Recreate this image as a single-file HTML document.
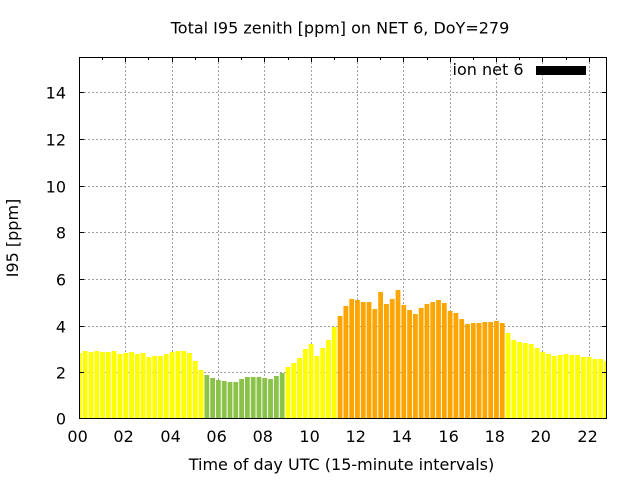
<!DOCTYPE html>
<html>
<head>
<meta charset="utf-8">
<style>
html,body{margin:0;padding:0;background:#fff;}
svg{display:block;}
text{font-family:"DejaVu Sans","Liberation Sans",sans-serif;font-size:16px;fill:#000;}
</style>
</head>
<body>
<svg width="640" height="480" viewBox="0 0 640 480" xmlns="http://www.w3.org/2000/svg">
<rect x="0" y="0" width="640" height="480" fill="#fff"/>
<!-- grid -->
<g stroke="#a0a0a0" stroke-width="1" stroke-dasharray="2,2" fill="none">
<line x1="80" y1="372.5" x2="606" y2="372.5"/>
<line x1="80" y1="326.5" x2="606" y2="326.5"/>
<line x1="80" y1="279.5" x2="606" y2="279.5"/>
<line x1="80" y1="232.5" x2="606" y2="232.5"/>
<line x1="80" y1="186.5" x2="606" y2="186.5"/>
<line x1="80" y1="139.5" x2="606" y2="139.5"/>
<line x1="80" y1="92.5" x2="606" y2="92.5"/>
<line x1="125.5" y1="58" x2="125.5" y2="418"/>
<line x1="172.5" y1="58" x2="172.5" y2="418"/>
<line x1="218.5" y1="58" x2="218.5" y2="418"/>
<line x1="264.5" y1="58" x2="264.5" y2="418"/>
<line x1="311.5" y1="58" x2="311.5" y2="418"/>
<line x1="357.5" y1="58" x2="357.5" y2="418"/>
<line x1="403.5" y1="58" x2="403.5" y2="418"/>
<line x1="450.5" y1="58" x2="450.5" y2="418"/>
<line x1="496.5" y1="58" x2="496.5" y2="418"/>
<line x1="542.5" y1="58" x2="542.5" y2="418"/>
<line x1="589.5" y1="58" x2="589.5" y2="418"/>
</g>
<!-- bars -->
<g fill="#ffff00">
<rect x="79.5" y="353" width="2.3" height="66"/>
<rect x="82.79" y="351" width="4.8" height="68"/>
<rect x="88.59" y="352" width="4.8" height="67"/>
<rect x="94.38" y="351" width="4.8" height="68"/>
<rect x="100.17" y="352" width="4.8" height="67"/>
<rect x="105.96" y="352" width="4.8" height="67"/>
<rect x="111.76" y="351" width="4.8" height="68"/>
<rect x="117.55" y="354" width="4.8" height="65"/>
<rect x="123.34" y="353" width="4.8" height="66"/>
<rect x="129.13" y="352" width="4.8" height="67"/>
<rect x="134.93" y="354" width="4.8" height="65"/>
<rect x="140.72" y="353" width="4.8" height="66"/>
<rect x="146.51" y="357" width="4.8" height="62"/>
<rect x="152.30" y="356" width="4.8" height="63"/>
<rect x="158.10" y="356" width="4.8" height="63"/>
<rect x="163.89" y="354" width="4.8" height="65"/>
<rect x="169.68" y="352" width="4.8" height="67"/>
<rect x="175.47" y="351" width="4.8" height="68"/>
<rect x="181.27" y="351" width="4.8" height="68"/>
<rect x="187.06" y="353" width="4.8" height="66"/>
<rect x="192.85" y="361" width="4.8" height="58"/>
<rect x="198.64" y="370" width="4.8" height="49"/>
</g>
<g fill="#8bc34a">
<rect x="204.44" y="375" width="4.8" height="44"/>
<rect x="210.23" y="378" width="4.8" height="41"/>
<rect x="216.02" y="380" width="4.8" height="39"/>
<rect x="221.81" y="381" width="4.8" height="38"/>
<rect x="227.61" y="382" width="4.8" height="37"/>
<rect x="233.40" y="382" width="4.8" height="37"/>
<rect x="239.19" y="379" width="4.8" height="40"/>
<rect x="244.98" y="377" width="4.8" height="42"/>
<rect x="250.78" y="377" width="4.8" height="42"/>
<rect x="256.57" y="377" width="4.8" height="42"/>
<rect x="262.36" y="378" width="4.8" height="41"/>
<rect x="268.15" y="379" width="4.8" height="40"/>
<rect x="273.95" y="376" width="4.8" height="43"/>
<rect x="279.74" y="373" width="4.8" height="46"/>
</g>
<g fill="#ffff00">
<rect x="285.53" y="367" width="4.8" height="52"/>
<rect x="291.32" y="363" width="4.8" height="56"/>
<rect x="297.12" y="358" width="4.8" height="61"/>
<rect x="302.91" y="349" width="4.8" height="70"/>
<rect x="308.70" y="344" width="4.8" height="75"/>
<rect x="314.49" y="356" width="4.8" height="63"/>
<rect x="320.29" y="348" width="4.8" height="71"/>
<rect x="326.08" y="340" width="4.8" height="79"/>
<rect x="331.87" y="327" width="4.8" height="92"/>
</g>
<g fill="#ffa500">
<rect x="337.66" y="316" width="4.8" height="103"/>
<rect x="343.46" y="306" width="4.8" height="113"/>
<rect x="349.25" y="299" width="4.8" height="120"/>
<rect x="355.04" y="300" width="4.8" height="119"/>
<rect x="360.83" y="302" width="4.8" height="117"/>
<rect x="366.63" y="302" width="4.8" height="117"/>
<rect x="372.42" y="309" width="4.8" height="110"/>
<rect x="378.21" y="292" width="4.8" height="127"/>
<rect x="384.00" y="304" width="4.8" height="115"/>
<rect x="389.80" y="299" width="4.8" height="120"/>
<rect x="395.59" y="290" width="4.8" height="129"/>
<rect x="401.38" y="305" width="4.8" height="114"/>
<rect x="407.17" y="310" width="4.8" height="109"/>
<rect x="412.97" y="314" width="4.8" height="105"/>
<rect x="418.76" y="308" width="4.8" height="111"/>
<rect x="424.55" y="304" width="4.8" height="115"/>
<rect x="430.34" y="302" width="4.8" height="117"/>
<rect x="436.14" y="300" width="4.8" height="119"/>
<rect x="441.93" y="303" width="4.8" height="116"/>
<rect x="447.72" y="311" width="4.8" height="108"/>
<rect x="453.51" y="313" width="4.8" height="106"/>
<rect x="459.31" y="319" width="4.8" height="100"/>
<rect x="465.10" y="324" width="4.8" height="95"/>
<rect x="470.89" y="323" width="4.8" height="96"/>
<rect x="476.68" y="323" width="4.8" height="96"/>
<rect x="482.48" y="322" width="4.8" height="97"/>
<rect x="488.27" y="322" width="4.8" height="97"/>
<rect x="494.06" y="321" width="4.8" height="98"/>
<rect x="499.85" y="323" width="4.8" height="96"/>
</g>
<g fill="#ffff00">
<rect x="505.65" y="333" width="4.8" height="86"/>
<rect x="511.44" y="340" width="4.8" height="79"/>
<rect x="517.23" y="342" width="4.8" height="77"/>
<rect x="523.02" y="343" width="4.8" height="76"/>
<rect x="528.82" y="344" width="4.8" height="75"/>
<rect x="534.61" y="348" width="4.8" height="71"/>
<rect x="540.40" y="352" width="4.8" height="67"/>
<rect x="546.19" y="354" width="4.8" height="65"/>
<rect x="551.99" y="356" width="4.8" height="63"/>
<rect x="557.78" y="355" width="4.8" height="64"/>
<rect x="563.57" y="354" width="4.8" height="65"/>
<rect x="569.36" y="355" width="4.8" height="64"/>
<rect x="575.16" y="355" width="4.8" height="64"/>
<rect x="580.95" y="357" width="4.8" height="62"/>
<rect x="586.74" y="357" width="4.8" height="62"/>
<rect x="592.53" y="359" width="4.8" height="60"/>
<rect x="598.33" y="359" width="4.8" height="60"/>
<rect x="604.12" y="361" width="1.9" height="58"/>
</g>
<!-- border -->
<rect x="79.5" y="57.5" width="527" height="361" fill="none" stroke="#000" stroke-width="1"/>
<!-- ticks -->
<g stroke="#000" stroke-width="1">
<!-- y ticks left -->
<line x1="80" y1="372.5" x2="84" y2="372.5"/>
<line x1="80" y1="326.5" x2="84" y2="326.5"/>
<line x1="80" y1="279.5" x2="84" y2="279.5"/>
<line x1="80" y1="232.5" x2="84" y2="232.5"/>
<line x1="80" y1="186.5" x2="84" y2="186.5"/>
<line x1="80" y1="139.5" x2="84" y2="139.5"/>
<line x1="80" y1="92.5" x2="84" y2="92.5"/>
<!-- y ticks right -->
<line x1="602" y1="372.5" x2="606" y2="372.5"/>
<line x1="602" y1="326.5" x2="606" y2="326.5"/>
<line x1="602" y1="279.5" x2="606" y2="279.5"/>
<line x1="602" y1="232.5" x2="606" y2="232.5"/>
<line x1="602" y1="186.5" x2="606" y2="186.5"/>
<line x1="602" y1="139.5" x2="606" y2="139.5"/>
<line x1="602" y1="92.5" x2="606" y2="92.5"/>
<!-- x major ticks top -->
<line x1="125.5" y1="58" x2="125.5" y2="62"/>
<line x1="172.5" y1="58" x2="172.5" y2="62"/>
<line x1="218.5" y1="58" x2="218.5" y2="62"/>
<line x1="264.5" y1="58" x2="264.5" y2="62"/>
<line x1="311.5" y1="58" x2="311.5" y2="62"/>
<line x1="357.5" y1="58" x2="357.5" y2="62"/>
<line x1="403.5" y1="58" x2="403.5" y2="62"/>
<line x1="450.5" y1="58" x2="450.5" y2="62"/>
<line x1="496.5" y1="58" x2="496.5" y2="62"/>
<line x1="542.5" y1="58" x2="542.5" y2="62"/>
<line x1="589.5" y1="58" x2="589.5" y2="62"/>
<!-- x minor ticks top -->
<line x1="102.5" y1="58" x2="102.5" y2="60"/>
<line x1="148.5" y1="58" x2="148.5" y2="60"/>
<line x1="195.5" y1="58" x2="195.5" y2="60"/>
<line x1="241.5" y1="58" x2="241.5" y2="60"/>
<line x1="288.5" y1="58" x2="288.5" y2="60"/>
<line x1="334.5" y1="58" x2="334.5" y2="60"/>
<line x1="380.5" y1="58" x2="380.5" y2="60"/>
<line x1="427.5" y1="58" x2="427.5" y2="60"/>
<line x1="473.5" y1="58" x2="473.5" y2="60"/>
<line x1="519.5" y1="58" x2="519.5" y2="60"/>
<line x1="566.5" y1="58" x2="566.5" y2="60"/>
</g>
<!-- y tick labels -->
<g text-anchor="end">
<text x="66" y="424.5">0</text>
<text x="66" y="378.3">2</text>
<text x="66" y="332.3">4</text>
<text x="66" y="285.3">6</text>
<text x="66" y="238.3">8</text>
<text x="66" y="192.3">10</text>
<text x="66" y="145.3">12</text>
<text x="66" y="98.3">14</text>
</g>
<!-- x tick labels -->
<g text-anchor="middle">
<text x="77.6" y="442">00</text>
<text x="123.6" y="442">02</text>
<text x="170.6" y="442">04</text>
<text x="216.6" y="442">06</text>
<text x="262.8" y="442">08</text>
<text x="309.6" y="442">10</text>
<text x="355.8" y="442">12</text>
<text x="401.8" y="442">14</text>
<text x="448.6" y="442">16</text>
<text x="494.8" y="442">18</text>
<text x="540.8" y="442">20</text>
<text x="587.6" y="442">22</text>
</g>
<!-- titles -->
<text x="340" y="33.5" text-anchor="middle">Total I95 zenith [ppm] on NET 6, DoY=279</text>
<text x="341.5" y="470" text-anchor="middle">Time of day UTC (15-minute intervals)</text>
<text transform="translate(18,238) rotate(-90)" text-anchor="middle">I95 [ppm]</text>
<!-- legend -->
<text x="523.5" y="75" text-anchor="end">ion net 6</text>
<rect x="536" y="66" width="50" height="9" fill="#000"/>
</svg>
</body>
</html>
